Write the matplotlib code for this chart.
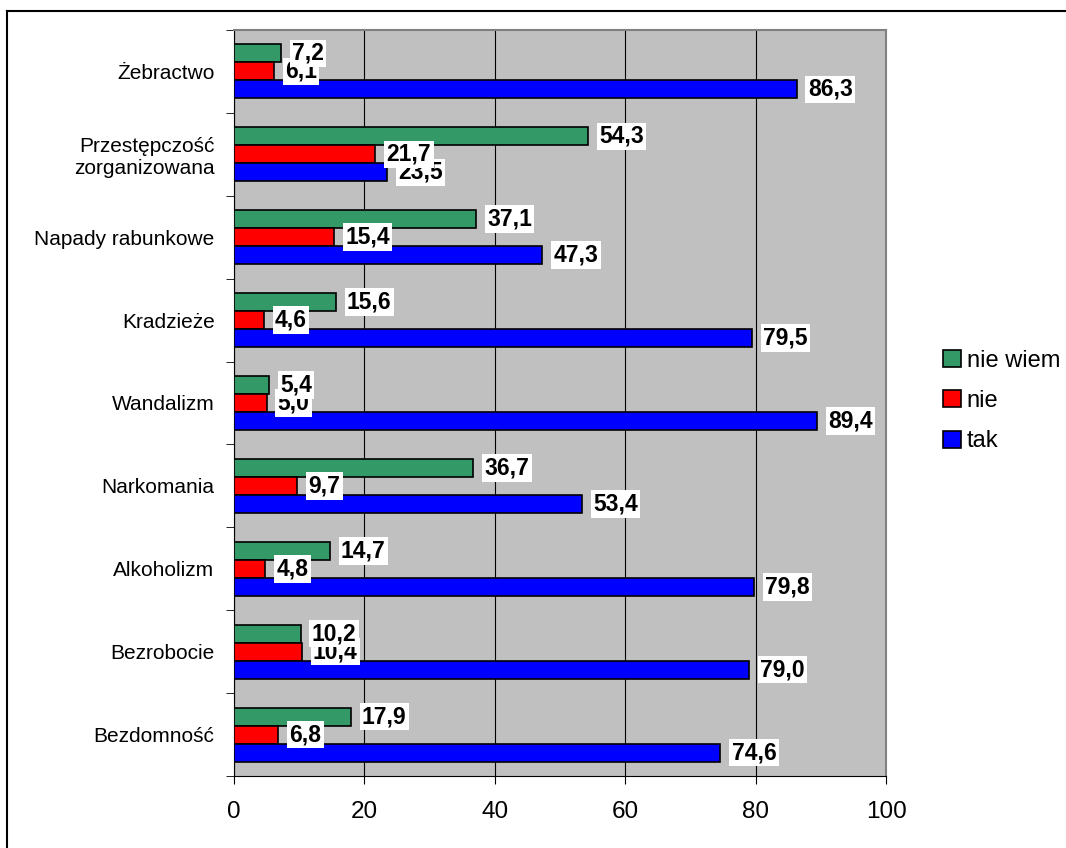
import numpy as np
import matplotlib
matplotlib.use("Agg")
import matplotlib.pyplot as plt
from matplotlib.lines import Line2D

plt.rcParams['font.family'] = ['Liberation Sans', 'DejaVu Sans']

# Data (categories listed top to bottom as in the chart)
categories = ["Żebractwo", "Przestępczość\nzorganizowana", "Napady rabunkowe",
              "Kradzieże", "Wandalizm", "Narkomania", "Alkoholizm",
              "Bezrobocie", "Bezdomność"]
nie_wiem = [7.2, 54.3, 37.1, 15.6, 5.4, 36.7, 14.7, 10.2, 17.9]
nie = [6.1, 21.7, 15.4, 4.6, 5.0, 9.7, 4.8, 10.4, 6.8]
tak = [86.3, 23.5, 47.3, 79.5, 89.4, 53.4, 79.8, 79.0, 74.6]
series_names = ["nie wiem", "nie", "tak"]
colors = ["#339966", "#FF0000", "#0000FF"]
x_ticks = [0, 20, 40, 60, 80, 100]

fig = plt.figure(figsize=(10.66, 8.48), dpi=100)
ax = fig.add_axes([234 / 1066, 1 - 776 / 848, 652 / 1066, 746 / 848])
ax.set_facecolor("#C0C0C0")

# outer chart border (top and left visible, rest cut off)
fig.add_artist(Line2D([7 / 1066, 7 / 1066], [0, 1 - 11 / 848], color="black", lw=1.5))
fig.add_artist(Line2D([7 / 1066, 1], [1 - 11 / 848, 1 - 11 / 848], color="black", lw=1.5))

n = len(categories)
pos = np.arange(n)[::-1]  # top category at highest position
h = 0.217
offsets = [h, 0, -h]  # green on top, red middle, blue bottom
label_z = [8, 7, 6]   # upper labels cover the ones below

for vals, name, col, off, lz in zip([nie_wiem, nie, tak], series_names, colors, offsets, label_z):
    ys = pos + off
    ax.barh(ys, vals, height=h, color=col, edgecolor="black", linewidth=1.2,
            label=name, zorder=3)
    for y, v in zip(ys, vals):
        ax.annotate(f"{v:.1f}".replace(".", ","), xy=(v, y), xytext=(8, 0),
                    textcoords="offset points", va="center", ha="left",
                    fontsize=16.5, fontweight="bold", zorder=lz,
                    bbox=dict(boxstyle="square,pad=0.1", fc="white", ec="none"))

ax.set_xlim(0, 100)
ax.set_ylim(-0.5, n - 0.5)
ax.set_xticks(x_ticks)
ax.set_xticklabels([str(t) for t in x_ticks], fontsize=17.5)
ax.xaxis.grid(True, color="black", linewidth=0.8, zorder=0)
ax.set_axisbelow(True)

ax.set_yticks(pos)
ax.set_yticklabels(categories, fontsize=15)
ax.tick_params(axis="y", length=0, pad=14)
ax.tick_params(axis="x", length=6, pad=12, direction="out")
# category boundary ticks
ax.set_yticks(np.arange(-0.5, n, 1.0), minor=True)
ax.tick_params(axis="y", which="minor", length=6, direction="out")

for s in ["top", "right"]:
    ax.spines[s].set_color("#808080")
    ax.spines[s].set_linewidth(1.5)
ax.spines["left"].set_color("black")
ax.spines["bottom"].set_color("black")

handles, labels = ax.get_legend_handles_labels()
leg = fig.legend(handles, labels, loc="center left", bbox_to_anchor=(943 / 1066, 1 - 401 / 848),
                 frameon=False, fontsize=17, handlelength=0.75, handleheight=0.75,
                 handletextpad=0.25, labelspacing=0.78, borderpad=0, borderaxespad=0)

fig.savefig("out.png", dpi=100)
